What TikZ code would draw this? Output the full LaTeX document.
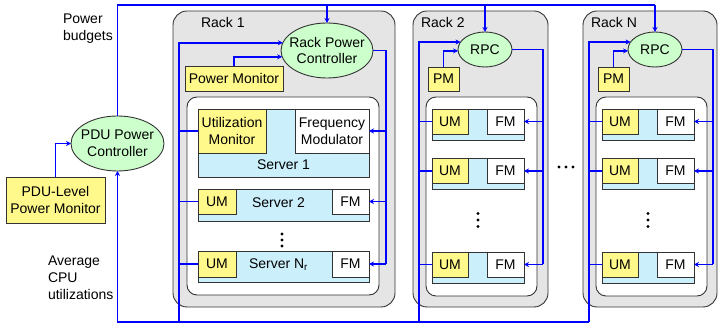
\documentclass[tikz,border=0pt]{standalone}
\usepackage{fontspec}
\setmainfont{Liberation Sans}
\usetikzlibrary{shapes.geometric,arrows.meta,positioning,calc}

\begin{document}
\begin{tikzpicture}[
  x=1pt, y=-1pt,
  every node/.style={inner sep=0pt, outer sep=0pt, font=\fontsize{14}{17}\selectfont},
  rack/.style={draw=black!80, line width=0.9pt, fill=black!10, rounded corners=14pt},
  group/.style={draw=black!80, line width=0.9pt, fill=white, rounded corners=10pt},
  server/.style={draw=black!80, line width=0.9pt, fill=cyan!20},
  monitor/.style={draw=black!80, line width=0.9pt, fill=yellow!45, align=center},
  modulator/.style={draw=black!80, line width=0.9pt, fill=white, align=center},
  ctrl/.style={draw=black!80, line width=0.9pt, ellipse, fill=green!20},
  txt/.style={align=left, anchor=west},
  wire/.style={draw=blue, line width=1.8pt},
  arr/.style={wire, -{Stealth[length=5pt,width=5pt]}}
]
\useasboundingbox (0,0) rectangle (718,328);

% PDU level
\node[monitor, minimum width=99, minimum height=46] (pdupm) at (55.5,200) {PDU-Level\\Power Monitor};
\node[ctrl, minimum width=93, minimum height=55, label={[align=center]center:PDU Power\\Controller}] (pdu) at (117.5,143.5) {};
\node[txt] (budget text) at (63,28.5) {Power\\budgets};
\node[txt] (util text) at (48,277.5) {Average\\CPU\\utilizations};

% Rack 1
\node[rack, minimum width=222, minimum height=296] (rack1) at (284,159) {};
\node[txt] (rack1 name) at (201,23) {Rack 1};
\node[ctrl, minimum width=92, minimum height=55, label={[align=center]center:Rack Power\\Controller}] (rpc1) at (327,50.5) {};
\node[monitor, minimum width=98, minimum height=25] (pm1) at (234,78.5) {Power Monitor};
\node[group, minimum width=192, minimum height=198] (grp1) at (283,196) {};
\node[server, minimum width=171, minimum height=68] (srv11) at (283.5,143) {};
\node[monitor, minimum width=68, minimum height=44] (um11) at (232,131) {Utilization\\Monitor};
\node[modulator, minimum width=74, minimum height=44] (fm11) at (332,131) {Frequency\\Modulator};
\node (srv11 name) at (283.5,165) {Server 1};
\node[server, minimum width=171, minimum height=32] (srv12) at (283.5,205) {};
\node[monitor, minimum width=38, minimum height=25] (um12) at (217,201.5) {UM};
\node[modulator, minimum width=37, minimum height=25] (fm12) at (350.5,201.5) {FM};
\node (srv12 name) at (278.5,203) {Server 2};
\node[server, minimum width=171, minimum height=31] (srv13) at (283.5,266.5) {};
\node[monitor, minimum width=38, minimum height=26] (um13) at (217,264) {UM};
\node[modulator, minimum width=37, minimum height=26] (fm13) at (350.5,264) {FM};
\node (srv13 name) at (278.5,265) {Server N\textsubscript{r}};
\foreach \y in {234,240,246} \fill (282,\y) circle (1.6);

% Rack 2
\node[rack, minimum width=135, minimum height=296] (rack2) at (480.5,159) {};
\node[txt] (rack2 name) at (421,23) {Rack 2};
\node[ctrl, minimum width=54, minimum height=35] (rpc2) at (485,49.5) {RPC};
\node[monitor, minimum width=31, minimum height=24] (pm2) at (443.5,79) {PM};
\node[group, minimum width=111, minimum height=199] (grp2) at (481.5,196.5) {};
\node[server, minimum width=92, minimum height=31] (srv21) at (478,124.5) {};
\node[monitor, minimum width=36, minimum height=25] (um21) at (450,121.5) {UM};
\node[modulator, minimum width=37, minimum height=25] (fm21) at (505.5,121.5) {FM};
\node[server, minimum width=92, minimum height=31] (srv22) at (478,174) {};
\node[monitor, minimum width=36, minimum height=25] (um22) at (450,171) {UM};
\node[modulator, minimum width=37, minimum height=25] (fm22) at (505.5,171) {FM};
\node[server, minimum width=92, minimum height=31] (srv23) at (478,267.5) {};
\node[monitor, minimum width=36, minimum height=25] (um23) at (450,264.5) {UM};
\node[modulator, minimum width=37, minimum height=25] (fm23) at (505.5,264.5) {FM};
\foreach \y in {213.5,220,226.5} \fill (478,\y) circle (1.6);

% between racks
\foreach \x in {559,566,573} \fill (\x,167) circle (1.6);

% Rack N
\node[rack, minimum width=134, minimum height=296] (rackN) at (650,159) {};
\node[txt] (rackN name) at (591,23) {Rack N};
\node[ctrl, minimum width=54, minimum height=35] (rpcN) at (655,49.5) {RPC};
\node[monitor, minimum width=31, minimum height=24] (pmN) at (613.5,79) {PM};
\node[group, minimum width=111, minimum height=199] (grpN) at (651.5,196.5) {};
\node[server, minimum width=92, minimum height=31] (srvN1) at (648,124.5) {};
\node[monitor, minimum width=36, minimum height=25] (umN1) at (620,121.5) {UM};
\node[modulator, minimum width=37, minimum height=25] (fmN1) at (675.5,121.5) {FM};
\node[server, minimum width=92, minimum height=31] (srvN2) at (648,174) {};
\node[monitor, minimum width=36, minimum height=25] (umN2) at (620,171) {UM};
\node[modulator, minimum width=37, minimum height=25] (fmN2) at (675.5,171) {FM};
\node[server, minimum width=92, minimum height=31] (srvN3) at (648,267.5) {};
\node[monitor, minimum width=36, minimum height=25] (umN3) at (620,264.5) {UM};
\node[modulator, minimum width=37, minimum height=25] (fmN3) at (675.5,264.5) {FM};
\foreach \y in {213.5,220,226.5} \fill (648,\y) circle (1.6);

% bus ends
\coordinate (budget) at (117.5,5);
\coordinate (in1) at (179,322);
\coordinate (in2) at (419,322);
\coordinate (inN) at (589,322);
\coordinate (out1) at (386,264);
\coordinate (out2) at (543,264.5);
\coordinate (outN) at (713,264.5);

% Power budgets: PDU controller -> rack controllers
\draw[wire] (pdu.north) -- (budget) -- (budget -| rpcN.north);
\draw[arr] (budget -| rpc1.north) -- (rpc1.north);
\draw[arr] (budget -| rpc2.north) -- (rpc2.north);
\draw[arr] (budget -| rpcN.north) -- (rpcN.north);

% Power monitors
\draw[arr] (pdupm.north) |- (pdu.west);
\draw[arr] (pm1.north) |- (rpc1.188);
\draw[arr] (pm2.north) |- (rpc2.183);
\draw[arr] (pmN.north) |- (rpcN.183);

% CPU utilizations
\draw[arr] (in1) |- (rpc1.170);
\draw[arr] (in2) |- (rpc2.163);
\draw[arr] (inN) |- (rpcN.163);
\draw[arr] (inN) -| (pdu.south);
\draw[wire] (um11.west) -- (um11.west -| in1);
\draw[wire] (um12.west) -- (um12.west -| in1);
\draw[wire] (um13.west) -- (um13.west -| in1);
\draw[wire] (um21.west) -- (um21.west -| in2);
\draw[wire] (um22.west) -- (um22.west -| in2);
\draw[wire] (um23.west) -- (um23.west -| in2);
\draw[wire] (umN1.west) -- (umN1.west -| inN);
\draw[wire] (umN2.west) -- (umN2.west -| inN);
\draw[wire] (umN3.west) -- (umN3.west -| inN);

% Frequency commands
\draw[wire] (rpc1.east) -| (out1);
\draw[arr] (out1 |- fm11.east) -- (fm11.east);
\draw[arr] (out1 |- fm12.east) -- (fm12.east);
\draw[arr] (out1) -- (fm13.east);
\draw[wire] (rpc2.east) -| (out2);
\draw[arr] (out2 |- fm21.east) -- (fm21.east);
\draw[arr] (out2 |- fm22.east) -- (fm22.east);
\draw[arr] (out2) -- (fm23.east);
\draw[wire] (rpcN.east) -| (outN);
\draw[arr] (outN |- fmN1.east) -- (fmN1.east);
\draw[arr] (outN |- fmN2.east) -- (fmN2.east);
\draw[arr] (outN) -- (fmN3.east);

\end{tikzpicture}
\end{document}
